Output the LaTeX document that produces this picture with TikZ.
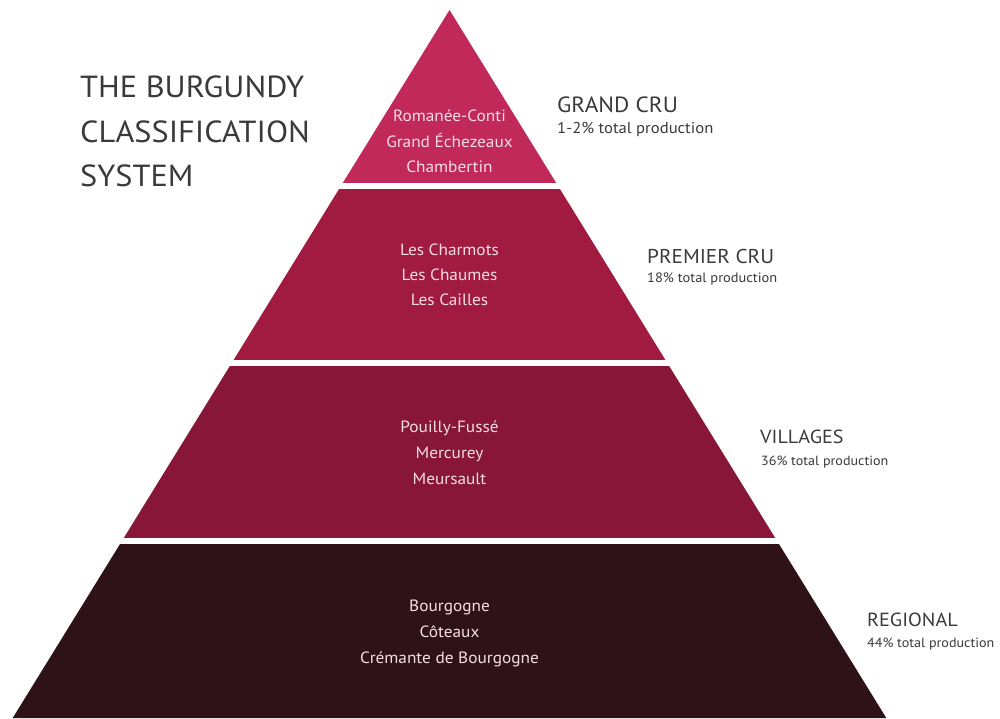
\documentclass[tikz,border=0pt]{standalone}
\usepackage{fontspec}
\setmainfont{PT Sans}[FakeStretch=1.06]
\definecolor{lay1}{HTML}{C1295B}
\definecolor{lay2}{HTML}{A11B41}
\definecolor{lay3}{HTML}{871638}
\definecolor{lay4}{HTML}{2F1217}
\definecolor{labtxt}{HTML}{3A3A3A}
\definecolor{intxt}{HTML}{F3DDE3}
\tikzset{
  intext/.style={anchor=base, text=intxt, inner sep=0pt, font=\fontsize{16.3}{16.3}\selectfont},
  bigtitle/.style={anchor=base west, text=labtxt, inner sep=0pt, font=\fontsize{30.5}{30.5}\selectfont},
  levelname/.style={anchor=base west, text=labtxt, inner sep=0pt, font=\fontsize{19}{19}\selectfont},
  levelshare/.style={anchor=base west, text=labtxt, inner sep=0pt, font=\fontsize{13.3}{13.3}\selectfont}
}
\begin{document}
\begin{tikzpicture}[x=1pt,y=-1pt]
\useasboundingbox (0,0) rectangle (1000,718);
\fill[white] (0,0) rectangle (1000,718);
% pyramid bands
\begin{scope}
  \clip (449.5,10) -- (886.3,718) -- (12.7,718) -- cycle;
  \fill[lay1] (0,0) rectangle (1000,182.7);
  \fill[lay2] (0,189.3) rectangle (1000,360);
  \fill[lay3] (0,365.5) rectangle (1000,538);
  \fill[lay4] (0,543.5) rectangle (1000,720);
\end{scope}
% title
\node[bigtitle] (t1) at (80,97) {THE BURGUNDY};
\node[bigtitle] (t2) at (80,142) {CLASSIFICATION};
\node[bigtitle] (t3) at (80,186) {SYSTEM};
% layer texts
\node[intext] (a1) at (449.5,121.5) {Romanée-Conti};
\node[intext] (a2) at (449.5,147.5) {Grand Échezeaux};
\node[intext] (a3) at (449.5,172.5) {Chambertin};
\node[intext] (b1) at (449.5,255.5) {Les Charmots};
\node[intext] (b2) at (449.5,280.5) {Les Chaumes};
\node[intext] (b3) at (449.5,305.5) {Les Cailles};
\node[intext] (c1) at (449.5,432.5) {Pouilly-Fussé};
\node[intext] (c2) at (449.5,458.5) {Mercurey};
\node[intext] (c3) at (449.5,484.5) {Meursault};
\node[intext] (d1) at (449.5,611.5) {Bourgogne};
\node[intext] (d2) at (449.5,637.5) {Côteaux};
\node[intext] (d3) at (449.5,663.5) {Crémante de Bourgogne};
% right labels
\node[levelname, font=\fontsize{22}{22}\selectfont] (g1) at (557,112) {GRAND CRU};
\node[levelshare, font=\fontsize{15.7}{15.7}\selectfont] (g2) at (557,133) {1-2\% total production};
\node[levelname, font=\fontsize{20}{20}\selectfont] (p1) at (647,263) {PREMIER CRU};
\node[levelshare, font=\fontsize{13.6}{13.6}\selectfont] (p2) at (647,282) {18\% total production};
\node[levelname] (v1) at (760,443) {VILLAGES};
\node[levelshare] (v2) at (761,465) {36\% total production};
\node[levelname] (r1) at (867,626) {REGIONAL};
\node[levelshare] (r2) at (867,647) {44\% total production};
\end{tikzpicture}
\end{document}
